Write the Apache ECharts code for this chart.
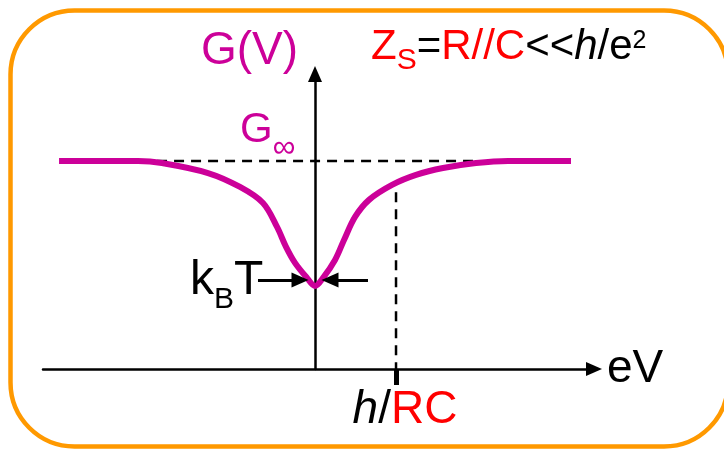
<!DOCTYPE html>
<html>
<head>
<meta charset="utf-8">
<script src="https://cdn.jsdelivr.net/npm/echarts@6/dist/echarts.min.js"></script>
<style>
  html, body { margin: 0; padding: 0; background: #fff; }
  #chart { width: 724px; height: 450px; }
</style>
</head>
<body>
<div id="chart"></div>
<script>
// Zero-bias anomaly of a tunnel junction in a low-impedance environment.
// Bias eV in units of h/RC, conductance in units of G∞.
const biasEV = [-3.16, -2.185, -1.889, -1.321, -0.926, -0.642, -0.469, -0.358, -0.247, -0.099, 0,
                0.099, 0.247, 0.358, 0.494, 0.667, 0.951, 1.247, 1.580, 1.988, 2.383, 3.16];
const conductance = [1.0, 1.0, 0.990, 0.942, 0.875, 0.798, 0.683, 0.587, 0.510, 0.438, 0.399,
                     0.438, 0.524, 0.620, 0.731, 0.813, 0.885, 0.933, 0.966, 0.990, 1.0, 1.0];
const gInfinity = 1;                 // high-bias conductance
const plateauGuide = [-1.95, 2.0];   // extent of the G∞ guide
const rcCutoff = 1;                  // h/RC
const cutoffGuideTop = 0.85;
const kbtArrowFrom = [-0.704, 0.654];
const kbtArrowTo = [-0.185, 0.185];
const kbtLevel = 0.428;
const xTickValues = [rcCutoff];

const MAGENTA = '#CC0099';
const RED = '#FF0000';
const ORANGE = '#FF9900';
const FONT = "'Liberation Sans', Arial, sans-serif";

const chart = echarts.init(document.getElementById('chart'), null, { renderer: 'canvas' });

const curveData = biasEV.map((x, i) => [x, conductance[i]]);

// Text annotation anchored in data coordinates; subscripts sit at the bottom of
// the line box, so the main token's lineHeight sets how far they drop.
function textLabel(pos, formatter, rich, align) {
  return {
    value: pos,
    label: {
      show: true,
      position: 'inside',
      align: align,
      verticalAlign: 'middle',
      textBorderWidth: 0,
      opacity: 1,
      formatter: formatter,
      rich: rich
    }
  };
}

const option = {
  animation: false,
  backgroundColor: '#ffffff',
  graphic: [{
    type: 'rect',
    silent: true,
    z: -10,
    shape: { x: 10.5, y: 10.5, width: 717.5, height: 436, r: 64 },
    style: { fill: 'none', stroke: ORANGE, lineWidth: 4.5 }
  }],
  grid: { left: 43, right: 130, top: 74, bottom: 81, containLabel: false },
  xAxis: {
    type: 'value',
    min: -3.358,
    max: 3.444,
    splitLine: { show: false },
    axisLine: {
      onZero: true,
      lineStyle: { color: '#000', width: 2.5 },
      symbol: ['none', 'triangle'],
      symbolSize: [14, 16]
    },
    axisTick: {
      show: true,
      customValues: xTickValues,
      length: 16,
      inside: false,
      lineStyle: { color: '#000', width: 5 }
    },
    axisLabel: {
      show: true,
      customValues: xTickValues,
      margin: 16,
      padding: [0, 0, 0, 18],
      formatter: () => '{i|h}{k|/}{r|RC}',
      rich: {
        i: { fontFamily: FONT, fontSize: 46, fontStyle: 'italic', color: '#000', lineHeight: 50 },
        k: { fontFamily: FONT, fontSize: 46, color: '#000', lineHeight: 50 },
        r: { fontFamily: FONT, fontSize: 46, color: RED, lineHeight: 50 }
      }
    },
    name: 'eV',
    nameLocation: 'end',
    nameGap: 13,
    nameTextStyle: {
      fontFamily: FONT, fontSize: 46, color: '#000',
      align: 'left', verticalAlign: 'middle', padding: [0, 0, 15, 0]
    }
  },
  yAxis: {
    type: 'value',
    min: 0,
    max: 1.418,
    splitLine: { show: false },
    axisTick: { show: false },
    axisLabel: { show: false },
    axisLine: {
      onZero: true,
      lineStyle: { color: '#000', width: 2.5 },
      symbol: ['none', 'triangle'],
      symbolSize: [14, 16]
    }
  },
  series: [
    {
      name: 'G∞ guide',
      type: 'line',
      silent: true,
      symbol: 'none',
      z: 1,
      data: [[plateauGuide[0], gInfinity], [plateauGuide[1], gInfinity]],
      lineStyle: { color: '#000', width: 2.5, type: [10, 7] }
    },
    {
      name: 'h/RC guide',
      type: 'line',
      silent: true,
      symbol: 'none',
      z: 1,
      data: [[rcCutoff, cutoffGuideTop], [rcCutoff, 0]],
      lineStyle: { color: '#000', width: 2.5, type: [10, 7] }
    },
    {
      name: 'G(V)',
      type: 'line',
      silent: true,
      symbol: 'none',
      smooth: 0.35,
      z: 3,
      data: curveData,
      lineStyle: { color: MAGENTA, width: 6 },
      markLine: {
        silent: true,
        symbol: ['none', 'triangle'],
        symbolSize: [15, 17],
        label: { show: false },
        lineStyle: { color: '#000', width: 3, type: 'solid' },
        data: [
          [{ coord: [kbtArrowFrom[0], kbtLevel] }, { coord: [kbtArrowTo[0], kbtLevel] }],
          [{ coord: [kbtArrowFrom[1], kbtLevel] }, { coord: [kbtArrowTo[1], kbtLevel] }]
        ]
      }
    },
    {
      name: 'labels',
      type: 'scatter',
      silent: true,
      clip: false,
      symbolSize: 1,
      itemStyle: { color: 'rgba(0,0,0,0)', opacity: 1 },
      z: 4,
      data: [
        textLabel([-0.809, 1.529], '{g|G(V)}', {
          g: { fontFamily: FONT, fontSize: 46, color: MAGENTA, lineHeight: 50 }
        }, 'center'),
        textLabel([0.691, 1.548], '{r|Z}{rs|S}{k|=}{r|R//C}{k|<<}{ki|h}{k|/e}{sup|2}', {
          r: { fontFamily: FONT, fontSize: 42, color: RED, lineHeight: 58 },
          rs: { fontFamily: FONT, fontSize: 30, color: RED, verticalAlign: 'bottom' },
          k: { fontFamily: FONT, fontSize: 42, color: '#000', lineHeight: 58 },
          ki: { fontFamily: FONT, fontSize: 42, color: '#000', fontStyle: 'italic', lineHeight: 58 },
          sup: { fontFamily: FONT, fontSize: 25, color: '#000', verticalAlign: 'middle', padding: [0, 0, 11, 0] }
        }, 'left'),
        textLabel([-0.926, 1.149], '{g|G}{inf|∞}', {
          g: { fontFamily: FONT, fontSize: 42, color: MAGENTA, lineHeight: 69 },
          inf: { fontFamily: FONT, fontSize: 32, color: MAGENTA, verticalAlign: 'bottom' }
        }, 'left'),
        textLabel([-1.543, 0.425], '{m|k}{s|B}{m|T}', {
          m: { fontFamily: FONT, fontSize: 48, color: '#000', lineHeight: 69 },
          s: { fontFamily: FONT, fontSize: 30, color: '#000', verticalAlign: 'bottom' }
        }, 'left')
      ]
    }
  ]
};

chart.setOption(option);
</script>
</body>
</html>
